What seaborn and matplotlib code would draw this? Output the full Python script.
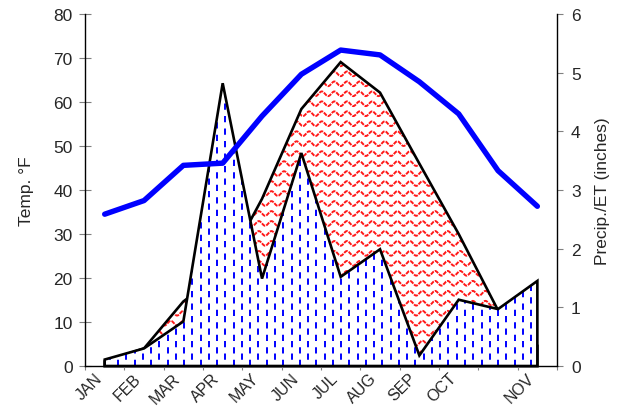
import numpy as np
import matplotlib
matplotlib.use("Agg")
import matplotlib.pyplot as plt
import seaborn as sns

# monthly values (11th category has no label in the original)
months = ['JAN', 'FEB', 'MAR', 'APR', 'MAY', 'JUN', 'JUL', 'AUG', 'SEP', 'OCT', '', 'NOV']
temp_f = [34.5, 37.6, 45.6, 46.1, 56.8, 66.3, 71.8, 70.7, 64.6, 57.3, 44.4, 36.3]
precip_in = [0.11, 0.30, 0.76, 4.82, 1.49, 3.63, 1.52, 1.99, 0.18, 1.13, 0.97, 1.45]
et_in = [0.08, 0.30, 1.10, 1.60, 2.85, 4.38, 5.18, 4.66, 3.45, 2.25, 0.95, 0.35]


def clip_texture(ax, patch, kind):
    # fake the Excel pattern fills by drawing lines clipped to the area
    z = patch.get_zorder() + 0.1
    if kind == 'dash':
        for i, x in enumerate(np.arange(-0.5, 11.6, 0.21)):
            off = 0 if i % 2 == 0 else 4.5
            ln, = ax.plot([x, x], [0, 6], color='#0000FF', lw=1.4,
                          linestyle=(off, (4.5, 4.5)), zorder=z)
            ln.set_clip_path(patch)
    else:
        xs = np.linspace(-0.5, 11.5, 3000)
        for y0 in np.arange(0.05, 6, 0.17):
            ys = y0 + 0.04 * np.sin(2 * np.pi * xs / 0.32)
            ln, = ax.plot(xs, ys, color='#FF0000', lw=1.4, alpha=0.9,
                          linestyle=(0, (3.0, 0.8)), zorder=z)
            ln.set_clip_path(patch)


def area(ax, x, y, z):
    xs = np.r_[x[0], x, x[-1]]
    ys = np.r_[0, y, 0]
    base, = ax.fill(xs, ys, facecolor='white', edgecolor='none', zorder=z, clip_on=False)
    ax.fill(xs, ys, facecolor='none', edgecolor='black', linewidth=1.9,
            joinstyle='miter', zorder=z + 0.5, clip_on=False)
    return base


def main():
    sns.set_theme(style='white')
    plt.rcParams['font.family'] = ['Liberation Sans', 'DejaVu Sans']
    plt.rcParams['lines.scale_dashes'] = False

    pos = np.arange(len(months))
    fig = plt.figure(figsize=(6.27, 4.14), dpi=100)
    ax = fig.add_axes([0.1356, 0.1135, 0.7528, 0.8503])
    ax2 = ax.twinx()

    # ET area first, precip area on top of it
    et_patch = area(ax2, pos, et_in, 1)
    clip_texture(ax2, et_patch, 'wave')
    pr_patch = area(ax2, pos, precip_in, 2)
    clip_texture(ax2, pr_patch, 'dash')

    # temperature line sits above the areas
    ax.set_zorder(ax2.get_zorder() + 1)
    ax.patch.set_visible(False)
    sns.lineplot(x=pos, y=temp_f, ax=ax, color='#0000FF', linewidth=3.9)

    ax.set_xlim(-0.5, 11.5)
    ax.set_ylim(0, 80)
    ax2.set_ylim(0, 6)
    ax.set_yticks(np.arange(0, 81, 10))
    ax2.set_yticks(np.arange(0, 7, 1))

    ax.set_xticks(np.arange(-0.5, 12, 1))
    ax.set_xticklabels([])
    ax.set_xticks(pos, minor=True)
    ax.set_xticklabels(months, minor=True, rotation=45, ha='right', fontsize=11.5)
    ax.tick_params(axis='x', which='major', direction='out', length=3, width=0.8,
                   color='#808080', bottom=True)
    ax.tick_params(axis='x', which='minor', length=0, pad=3, bottom=True)

    ax.tick_params(axis='y', direction='inout', length=8, width=0.8, color='#808080',
                   labelsize=12.5, pad=5, left=True)
    ax2.tick_params(axis='y', direction='out', length=4, width=0.8, color='#808080',
                    labelsize=12.5, pad=6, right=True)

    for a in (ax, ax2):
        a.spines['top'].set_visible(False)
        for s in a.spines.values():
            s.set_color('black')
            s.set_linewidth(1.0)
    ax.spines['right'].set_visible(False)
    ax2.spines['left'].set_visible(False)
    ax2.spines['bottom'].set_visible(False)

    ax.set_ylabel('Temp. °F', fontsize=12.5, labelpad=14)
    ax2.set_ylabel('Precip./ET (inches)', fontsize=12.5, labelpad=10)
    ax.set_xlabel('')

    fig.savefig('out.png', dpi=100)


if __name__ == "__main__":
    main()
